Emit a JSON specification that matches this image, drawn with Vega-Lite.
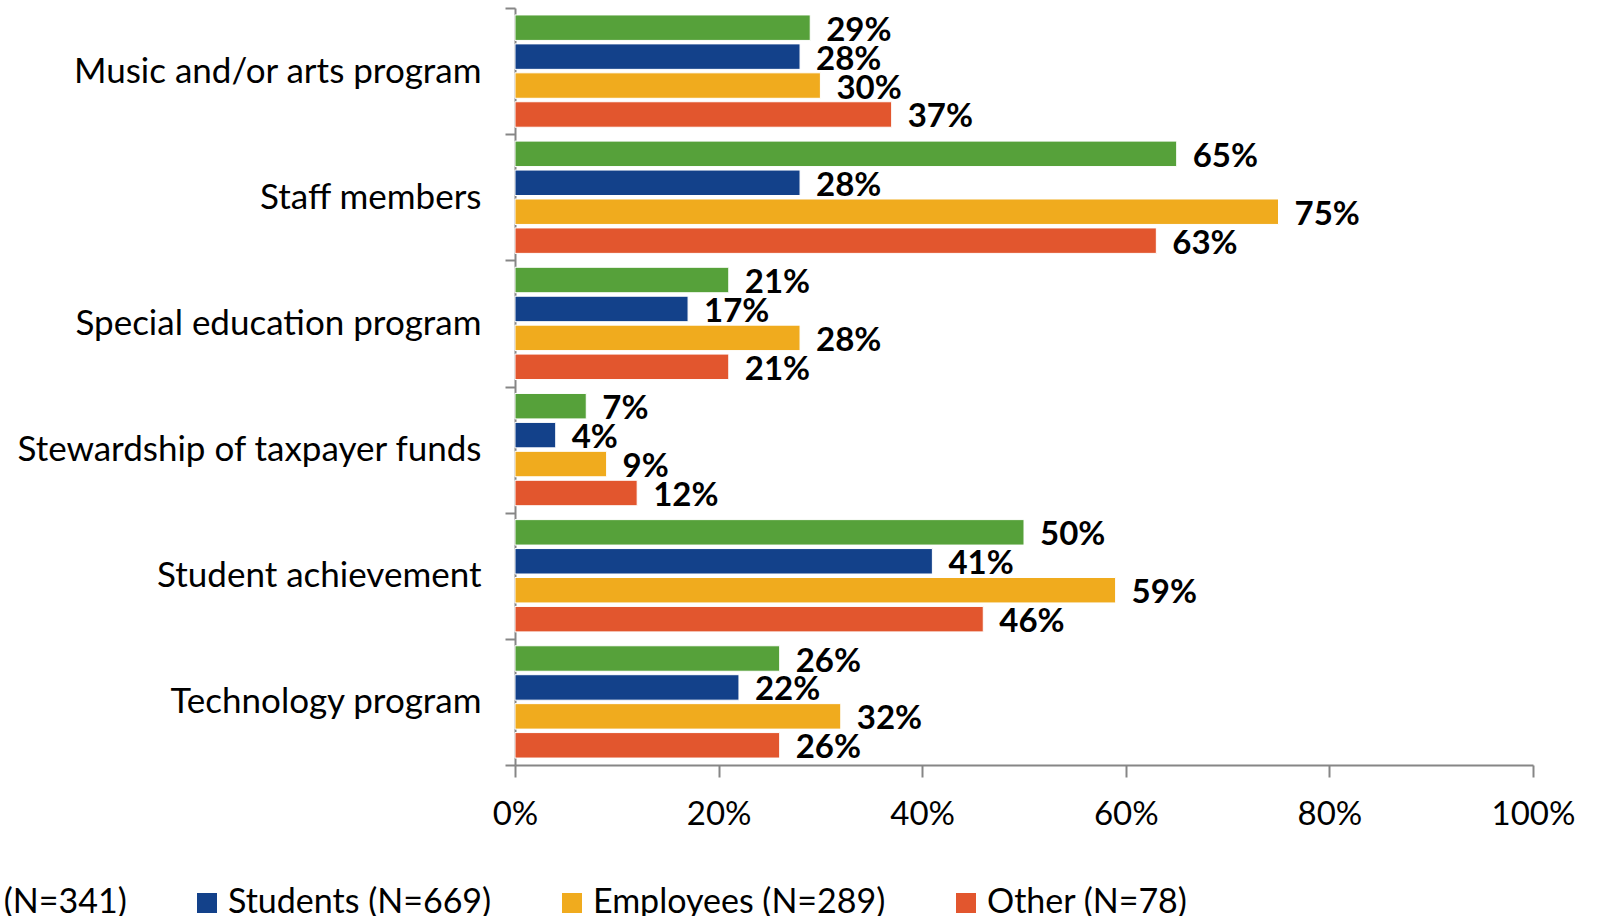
{
  "$schema": "https://vega.github.io/schema/vega-lite/v6.json",
  "width": 1018,
  "height": 757,
  "autosize": {"type": "none"},
  "padding": {"left": 515, "top": 8, "right": 66, "bottom": 151},
  "background": "white",
  "config": {"font": "Lato", "view": {"stroke": null}},
  "data": {
    "values": [
      {"category": "Music and/or arts program", "group": "Parents (N=341)", "value": 0.29},
      {"category": "Music and/or arts program", "group": "Students (N=669)", "value": 0.28},
      {"category": "Music and/or arts program", "group": "Employees (N=289)", "value": 0.30},
      {"category": "Music and/or arts program", "group": "Other (N=78)", "value": 0.37},
      {"category": "Staff members", "group": "Parents (N=341)", "value": 0.65},
      {"category": "Staff members", "group": "Students (N=669)", "value": 0.28},
      {"category": "Staff members", "group": "Employees (N=289)", "value": 0.75},
      {"category": "Staff members", "group": "Other (N=78)", "value": 0.63},
      {"category": "Special education program", "group": "Parents (N=341)", "value": 0.21},
      {"category": "Special education program", "group": "Students (N=669)", "value": 0.17},
      {"category": "Special education program", "group": "Employees (N=289)", "value": 0.28},
      {"category": "Special education program", "group": "Other (N=78)", "value": 0.21},
      {"category": "Stewardship of taxpayer funds", "group": "Parents (N=341)", "value": 0.07},
      {"category": "Stewardship of taxpayer funds", "group": "Students (N=669)", "value": 0.04},
      {"category": "Stewardship of taxpayer funds", "group": "Employees (N=289)", "value": 0.09},
      {"category": "Stewardship of taxpayer funds", "group": "Other (N=78)", "value": 0.12},
      {"category": "Student achievement", "group": "Parents (N=341)", "value": 0.50},
      {"category": "Student achievement", "group": "Students (N=669)", "value": 0.41},
      {"category": "Student achievement", "group": "Employees (N=289)", "value": 0.59},
      {"category": "Student achievement", "group": "Other (N=78)", "value": 0.46},
      {"category": "Technology program", "group": "Parents (N=341)", "value": 0.26},
      {"category": "Technology program", "group": "Students (N=669)", "value": 0.22},
      {"category": "Technology program", "group": "Employees (N=289)", "value": 0.32},
      {"category": "Technology program", "group": "Other (N=78)", "value": 0.26}
    ]
  },
  "encoding": {
    "y": {
      "field": "category",
      "type": "nominal",
      "sort": ["Music and/or arts program", "Staff members", "Special education program", "Stewardship of taxpayer funds", "Student achievement", "Technology program"],
      "scale": {"paddingInner": 0, "paddingOuter": 0},
      "axis": {
        "title": null,
        "tickBand": "extent",
        "labelFontSize": 35,
        "labelColor": "black",
        "labelLimit": 700,
        "labelPadding": 24,
        "domainColor": "#868686",
        "domainWidth": 2,
        "tickColor": "#868686",
        "tickWidth": 2,
        "tickSize": 10
      }
    },
    "yOffset": {
      "field": "group",
      "type": "nominal",
      "sort": ["Parents (N=341)", "Students (N=669)", "Employees (N=289)", "Other (N=78)"],
      "scale": {"paddingInner": 0.12, "paddingOuter": 0.24}
    },
    "x": {
      "field": "value",
      "type": "quantitative",
      "scale": {"domain": [0, 1]},
      "axis": {
        "title": null,
        "values": [0, 0.2, 0.4, 0.6, 0.8, 1],
        "format": ".0%",
        "grid": false,
        "labelFontSize": 33,
        "labelColor": "black",
        "labelPadding": 21,
        "labelFlush": false,
        "domainColor": "#868686",
        "domainWidth": 2,
        "tickColor": "#868686",
        "tickWidth": 2,
        "tickSize": 12
      }
    }
  },
  "layer": [
    {
      "mark": {"type": "bar", "stroke": "white", "strokeWidth": 1},
      "encoding": {
        "color": {
          "field": "group",
          "type": "nominal",
          "sort": ["Parents (N=341)", "Students (N=669)", "Employees (N=289)", "Other (N=78)"],
          "scale": {
            "domain": ["Parents (N=341)", "Students (N=669)", "Employees (N=289)", "Other (N=78)"],
            "range": ["#56A13A", "#13418A", "#F0AB1E", "#E2562E"]
          },
          "legend": {
            "orient": "none",
            "legendX": -670,
            "legendY": 878,
            "direction": "horizontal",
            "title": null,
            "symbolType": "square",
            "symbolSize": 400,
            "symbolStrokeWidth": 0,
            "labelFontSize": 34,
            "labelColor": "black",
            "labelLimit": 500,
            "labelOffset": 4,
            "columnPadding": 63
          }
        }
      }
    },
    {
      "mark": {"type": "text", "align": "left", "baseline": "middle", "dx": 16, "dy": 3, "fontWeight": "bold", "fontSize": 33, "color": "black"},
      "encoding": {"text": {"field": "value", "format": ".0%"}}
    }
  ]
}
